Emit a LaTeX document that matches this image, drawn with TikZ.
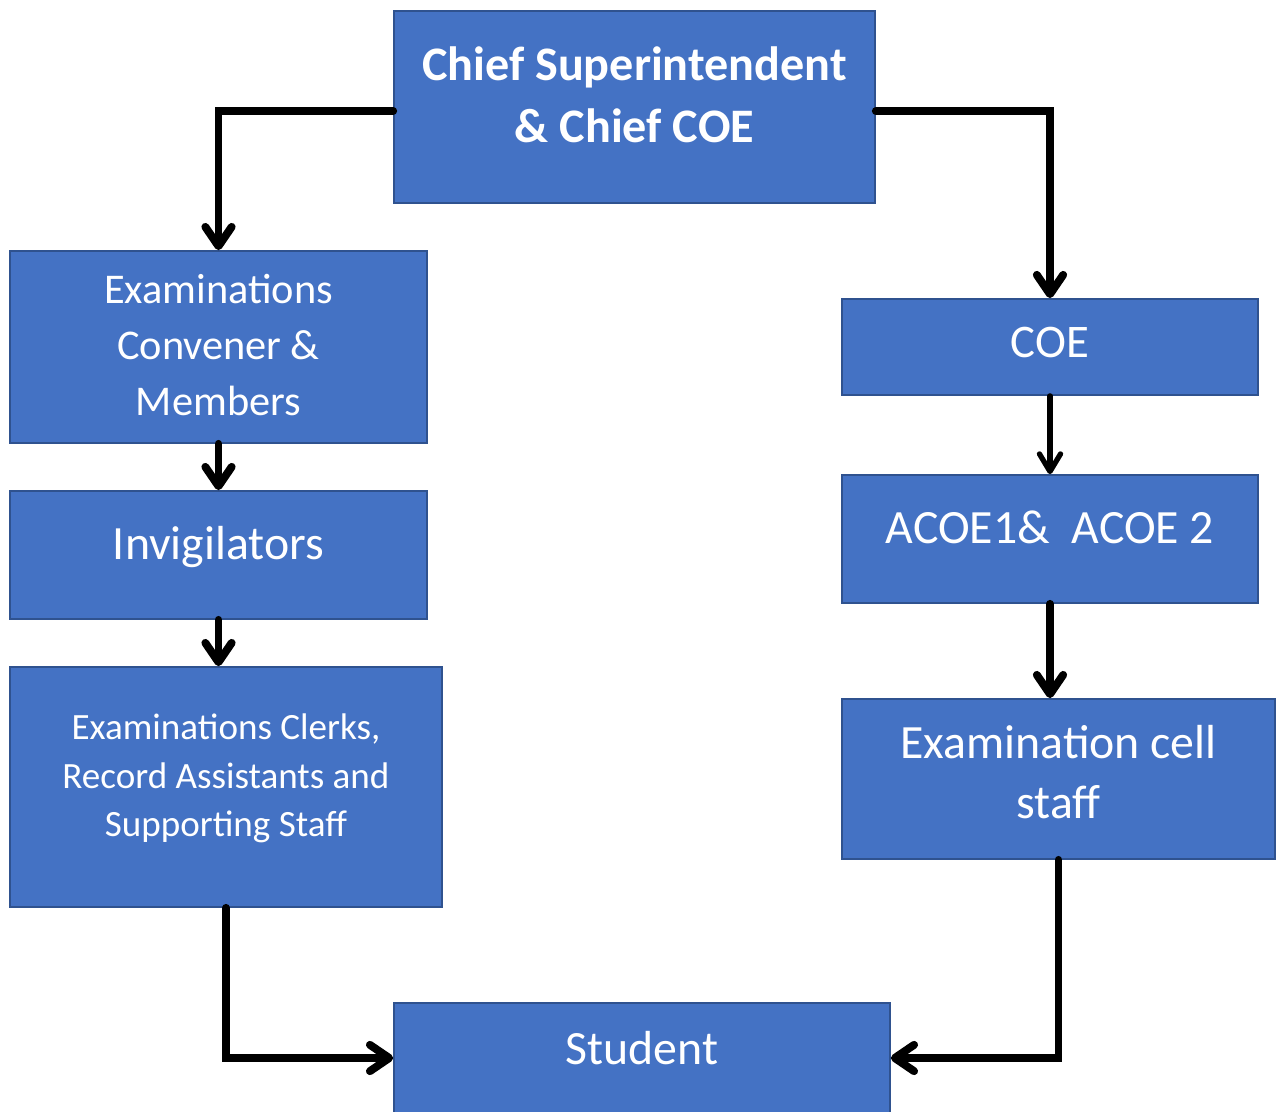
\documentclass[tikz,border=0pt]{standalone}
\usepackage{fontspec}
\setmainfont{Carlito}
\usetikzlibrary{arrows.meta}
\definecolor{boxblue}{HTML}{4472C4}
\definecolor{boxedge}{HTML}{2F528F}

\begin{document}
\begin{tikzpicture}[x=0.02cm,y=-0.02cm,
    box/.style={draw=boxedge,line width=1pt,fill=boxblue,text=white,align=center,inner sep=0pt},
    arr/.style={line width=4.5pt,line cap=round,line join=miter,-{Straight Barb[length=11pt,width=15pt,line cap=round,line join=round]}},
    thinarr/.style={line width=3pt,line cap=round,-{Straight Barb[length=10pt,width=12pt,line cap=round,line join=round]}}]
  \useasboundingbox (0,0) rectangle (1279,1112);

  % boxes
  \node[box,minimum width=9.62cm,minimum height=3.84cm,text depth=14pt,
    font=\fontsize{27.4}{35.7}\selectfont\bfseries] (chief) at (634.5,107)
    {Chief Superintendent\\ \& Chief COE};
  \node[box,minimum width=8.34cm,minimum height=3.84cm,text depth=2.3pt,
    font=\fontsize{24.1}{31.8}\selectfont] (conv) at (218.5,347)
    {Examinations\\ Convener \&\\ Members};
  \node[box,minimum width=8.34cm,minimum height=2.56cm,text depth=14pt,
    font=\fontsize{27.2}{32}\selectfont] (invig) at (218.5,555) {Invigilators};
  \node[box,minimum width=8.64cm,minimum height=4.8cm,text depth=13.5pt,
    font=\fontsize{21.1}{27.8}\selectfont] (clerks) at (226,787)
    {Examinations Clerks,\\ Record Assistants and\\ Supporting Staff};
  \node[box,minimum width=9.92cm,minimum height=2.2cm,text depth=11.4pt,
    font=\fontsize{27.2}{32}\selectfont] (student) at (642,1058) {Student};

  \node[box,minimum width=8.32cm,minimum height=1.92cm,text depth=5.7pt,
    font=\fontsize{26.6}{32}\selectfont] (coe) at (1050,347) {COE};
  \node[box,minimum width=8.32cm,minimum height=2.56cm,text depth=13.6pt,
    font=\fontsize{27.2}{32}\selectfont] (acoe) at (1050,539) {ACOE1\&~~ACOE 2};
  \node[box,minimum width=8.66cm,minimum height=3.2cm,text depth=8pt,
    font=\fontsize{27.2}{34.6}\selectfont] (cell) at (1058.5,779)
    {Examination cell\\ staff};

  % connectors
  \draw[arr] ([yshift=-2.3pt]chief.west) -| (conv.north);
  \draw[arr] ([yshift=-2.3pt]chief.east) -| (coe.north);
  \draw[arr] (conv.south) -- (invig.north);
  \draw[arr] (invig.south) -- (invig.south |- clerks.north);
  \draw[arr] (clerks.south) |- (student.west);
  \draw[thinarr] (coe.south) -- (acoe.north);
  \draw[arr] (acoe.south) -- (acoe.south |- cell.north);
  \draw[arr] (cell.south) |- (student.east);
\end{tikzpicture}
\end{document}
